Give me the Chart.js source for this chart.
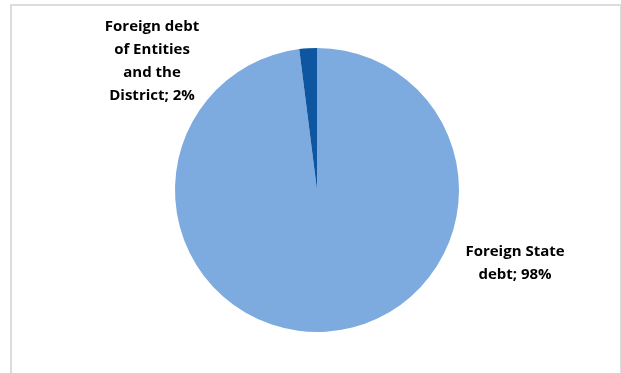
<!DOCTYPE html>
<html>
<head>
<meta charset="utf-8">
<script src="https://cdn.jsdelivr.net/npm/chart.js@4"></script>
<style>
  html, body { margin: 0; padding: 0; background: #fff; }
  #wrap { position: relative; width: 621px; height: 373px; }
  #frame {
    position: absolute; left: 10px; top: 4px; width: 608px; height: 380px;
    border: 2px solid #dcdcdc; border-bottom: none;
  }
  #Chart1 { position: absolute; left: 0; top: 0; }
</style>
</head>
<body>
<div id="wrap">
  <div id="frame"></div>
  <canvas id="Chart1" width="621" height="373"></canvas>
</div>
<script>
// dane wykresu
const categories = ['Foreign State debt', 'Foreign debt of Entities and the District'];
const shares = [98, 2];
const colors = ['#7eabdf', '#0f56a0'];

// etykiety jak w oryginale (linie tekstu)
const labelLines = [
  ['Foreign State', 'debt; ' + shares[0] + '%'],
  ['Foreign debt', 'of Entities', 'and the', 'District; ' + shares[1] + '%']
];
const labelPos = [
  { x: 515, y: 252 },
  { x: 152, y: 27 }
];

const sliceLabels = {
  id: 'sliceLabels',
  afterDraw(chart) {
    const c = chart.ctx;
    c.save();
    c.font = 'bold 15px "Open Sans"';
    c.fillStyle = '#000';
    c.textAlign = 'center';
    c.textBaseline = 'middle';
    labelLines.forEach((lines, i) => {
      lines.forEach((t, j) => {
        c.fillText(t, labelPos[i].x, labelPos[i].y + j * 23);
      });
    });
    c.restore();
  }
};

const ctx = document.getElementById('Chart1');
new Chart(ctx, {
  type: 'pie',
  data: {
    labels: categories,
    datasets: [{
      data: shares,
      backgroundColor: colors,
      borderWidth: 0
    }]
  },
  options: {
    responsive: false,
    animation: false,
    layout: { padding: { top: 48, bottom: 41, left: 13, right: 0 } },
    plugins: {
      legend: { display: false },
      tooltip: { enabled: false }
    }
  },
  plugins: [sliceLabels]
});
</script>
</body>
</html>
